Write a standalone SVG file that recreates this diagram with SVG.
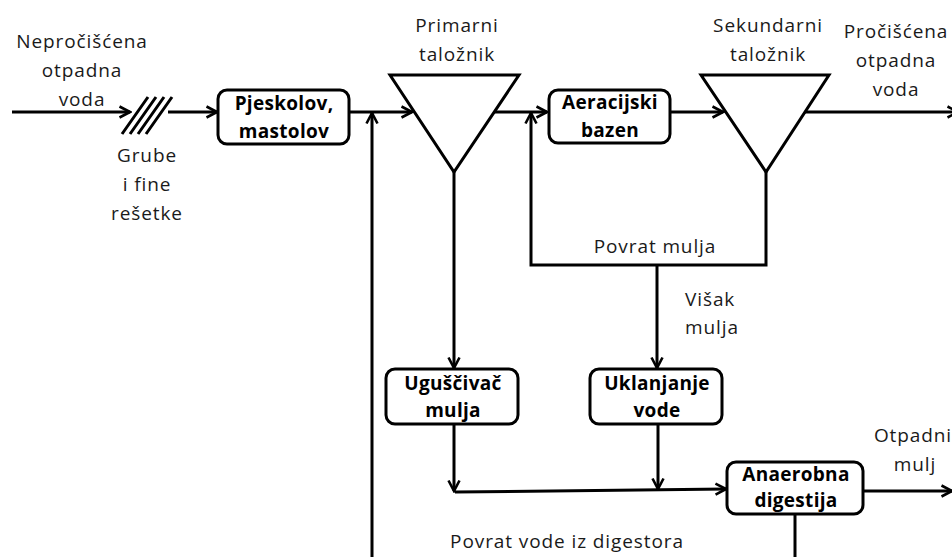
<svg xmlns="http://www.w3.org/2000/svg" width="952" height="557" viewBox="0 0 952 557">
<defs>
<style>
.box{fill:#fff;stroke:#000;stroke-width:3}
.tri{fill:#fff;stroke:#000;stroke-width:3;stroke-linejoin:miter}
.ln{fill:none;stroke:#000;stroke-width:3}
.arr{fill:none;stroke:#000;stroke-width:3;marker-end:url(#ah)}
.b{font-family:"Open Sans","Liberation Sans",sans-serif;font-weight:bold;font-size:19px;letter-spacing:0.3px;text-anchor:middle;fill:#000}
.t{font-family:"Open Sans","Liberation Sans",sans-serif;font-size:19px;letter-spacing:0.9px;text-anchor:middle;fill:#1a1a1a}
.ts{font-family:"Open Sans","Liberation Sans",sans-serif;font-size:19px;letter-spacing:0.9px;fill:#1a1a1a}
</style>
<marker id="ah" viewBox="0 0 14 14" refX="12" refY="7" markerWidth="14" markerHeight="14" markerUnits="userSpaceOnUse" orient="auto">
<path d="M1.5,1.5 L12,7 L1.5,12.5" fill="none" stroke="#000" stroke-width="2.6"/>
</marker>
</defs>
<rect width="952" height="557" fill="#fff"/>

<g id="connectors">
<path class="arr" d="M12,112 L130,112"/>
<path class="arr" d="M168,112 L217,112"/>
<path class="arr" d="M349,112 L412,112"/>
<path class="arr" d="M372,557 L372,113"/>
<path class="arr" d="M494,112 L547,112"/>
<path class="arr" d="M766,172 L766,265 L531,265 L531,113"/>
<path class="arr" d="M670,112 L723,112"/>
<path class="arr" d="M805,112 L958,112"/>
<path class="arr" d="M454,172 L454,368"/>
<path class="arr" d="M657,265 L657,368"/>
<path class="arr" d="M454,424 L454,491"/>
<path class="arr" d="M658,424 L658,489"/>
<path class="arr" d="M455,492 L726,489"/>
<path class="arr" d="M863,491 L952,491"/>
<path class="ln" d="M795,514 L795,557"/>
</g>

<g id="inlet-label">
<text class="t" x="82" y="48">Nepročišćena</text>
<text class="t" x="82" y="77">otpadna</text>
<text class="t" x="82" y="106">voda</text>
</g>

<g id="screen">
<path class="ln" stroke-width="2.8" d="M122,134 L148,97 M130,134 L156,97 M138,134 L164,97 M146,134 L172,97"/>
<text class="t" x="147" y="162">Grube</text>
<text class="t" x="147" y="191">i fine</text>
<text class="t" x="147" y="220">rešetke</text>
</g>

<g id="pjeskolov">
<rect class="box" x="218" y="90" width="131" height="54" rx="9"/>
<text class="b" x="284" y="110">Pjeskolov,</text>
<text class="b" x="284" y="138">mastolov</text>
</g>

<g id="primarni">
<polygon class="tri" points="390,75 519,75 454,172"/>
<text class="t" x="457" y="32">Primarni</text>
<text class="t" x="457" y="61">taložnik</text>
</g>

<g id="aeracijski">
<rect class="box" x="549" y="90" width="121" height="53" rx="9"/>
<text class="b" x="610" y="109">Aeracijski</text>
<text class="b" x="610" y="137">bazen</text>
</g>

<g id="sekundarni">
<polygon class="tri" points="701,75 829,75 766,172"/>
<text class="t" x="768" y="32">Sekundarni</text>
<text class="t" x="768" y="61">taložnik</text>
</g>

<g id="outlet-label">
<text class="t" x="896" y="38">Pročišćena</text>
<text class="t" x="896" y="67">otpadna</text>
<text class="t" x="896" y="96">voda</text>
</g>

<g id="povrat-mulja">
<text class="t" x="655" y="253">Povrat mulja</text>
</g>

<g id="visak-mulja">
<text class="ts" x="685" y="306">Višak</text>
<text class="ts" x="685" y="334">mulja</text>
</g>

<g id="uguscivac">
<rect class="box" x="386" y="369" width="132" height="55" rx="9"/>
<text class="b" x="453" y="390">Uguščivač</text>
<text class="b" x="453" y="417">mulja</text>
</g>

<g id="uklanjanje">
<rect class="box" x="590" y="369" width="132" height="55" rx="9"/>
<text class="b" x="657" y="390">Uklanjanje</text>
<text class="b" x="657" y="417">vode</text>
</g>

<g id="anaerobna">
<rect class="box" x="727" y="462" width="136" height="52" rx="9"/>
<text class="b" x="796" y="481">Anaerobna</text>
<text class="b" x="796" y="507">digestija</text>
</g>

<g id="otpadni-mulj">
<text class="t" x="913" y="442">Otpadni</text>
<text class="t" x="915" y="471">mulj</text>
</g>

<g id="povrat-vode">
<text class="t" x="567" y="548">Povrat vode iz digestora</text>
</g>
</svg>
